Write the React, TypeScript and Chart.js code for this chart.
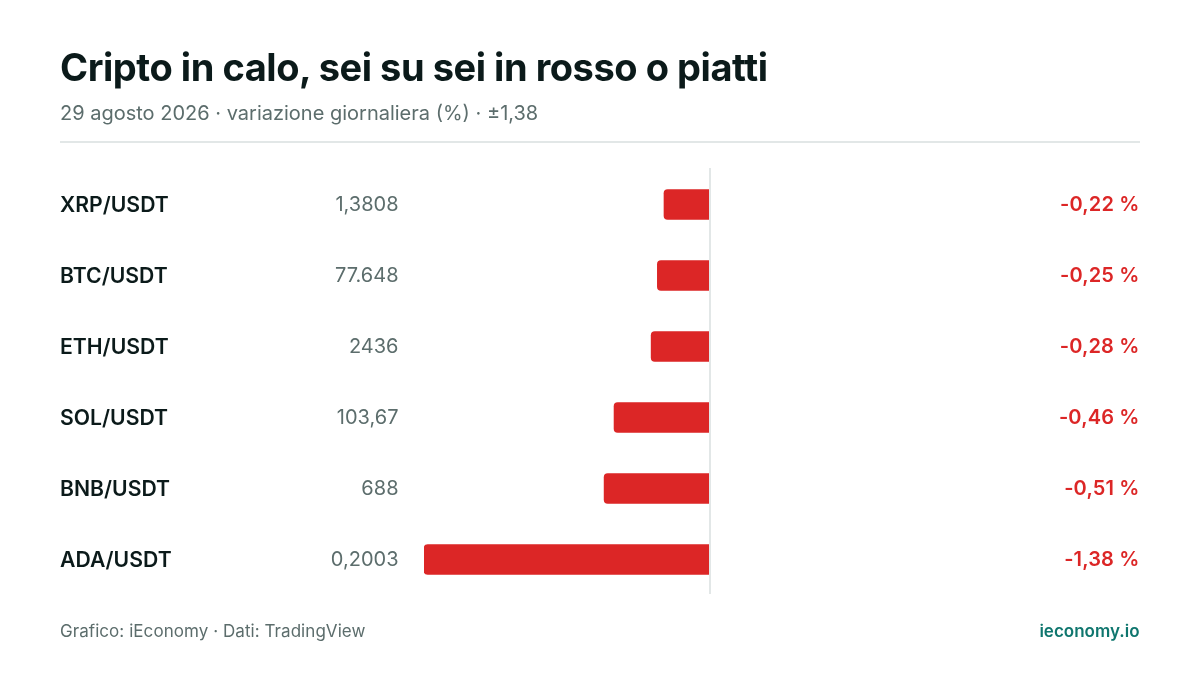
import React, { useEffect, useRef } from 'react';
import Chart from 'chart.js/auto';

const pairs = ['XRP/USDT', 'BTC/USDT', 'ETH/USDT', 'SOL/USDT', 'BNB/USDT', 'ADA/USDT'];
const changes = [-0.222, -0.254, -0.284, -0.463, -0.511, -1.38];
const prices = ['1,3808', '77.648', '2436', '103,67', '688', '0,2003'];
const changeLabels = ['-0,22 %', '-0,25 %', '-0,28 %', '-0,46 %', '-0,51 %', '-1,38 %'];
const domainLimit = 1.38;

const FONT = 'Inter, sans-serif';
const RED = '#dc2626';
const GREY = '#5c6d6c';
const INK = '#0b1a1a';
const RULE = '#e2e7e7';

const rowText = {
  id: 'rowText',
  afterDatasetsDraw(chart: Chart) {
    const { ctx, scales } = chart;
    const zero = scales.x.getPixelForValue(0);

    ctx.save();
    // zero line sits over the bar ends
    ctx.fillStyle = RULE;
    ctx.fillRect(zero - 1, scales.y.top - 1, 2, scales.y.height);

    ctx.textBaseline = 'middle';
    ctx.textAlign = 'right';
    pairs.forEach((_, i) => {
      const y = scales.y.getPixelForValue(i);
      ctx.font = `400 20px ${FONT}`;
      ctx.fillStyle = GREY;
      ctx.fillText(prices[i], 398.5, y);
      ctx.font = `600 20px ${FONT}`;
      ctx.fillStyle = RED;
      ctx.letterSpacing = '0.15px';
      ctx.fillText(changeLabels[i], 1139.5, y);
      ctx.letterSpacing = '0px';
    });
    ctx.restore();
  },
};

const App: React.FC = () => {
  const canvasRef = useRef<HTMLCanvasElement>(null);

  useEffect(() => {
    document.body.style.margin = '0';
    if (!canvasRef.current) return;

    const chart = new Chart(canvasRef.current, {
      type: 'bar',
      data: {
        labels: pairs,
        datasets: [
          {
            data: changes,
            backgroundColor: RED,
            barThickness: 30,
            borderRadius: { topLeft: 4, bottomLeft: 4, topRight: 0, bottomRight: 0 },
            borderSkipped: false,
          },
        ],
      },
      options: {
        indexAxis: 'y',
        animation: false,
        responsive: false,
        devicePixelRatio: 1,
        layout: { padding: { left: 60, right: 204, top: 169, bottom: 80 } },
        scales: {
          x: {
            min: -domainLimit,
            max: domainLimit,
            display: false,
          },
          y: {
            grid: { display: false },
            border: { display: false },
            afterFit: (scale) => {
              scale.width = 364;
            },
            ticks: {
              crossAlign: 'far',
              labelOffset: 1,
              color: INK,
              font: { family: FONT, size: 21.2, weight: 600 },
            },
          },
        },
        plugins: {
          legend: { display: false },
          tooltip: { enabled: false },
        },
      },
      plugins: [rowText],
    });

    return () => chart.destroy();
  }, []);

  return (
    <div style={{ position: 'relative', width: 1200, height: 675, background: '#fff', fontFamily: FONT, overflow: 'hidden' }}>
      <canvas ref={canvasRef} width={1200} height={675} style={{ position: 'absolute', left: 0, top: 0 }} />
      <div style={{ position: 'absolute', left: 60, top: 44, fontSize: 38, lineHeight: '46px', fontWeight: 700, letterSpacing: '-0.45px', color: INK }}>
        Cripto in calo, sei su sei in rosso o piatti
      </div>
      <div style={{ position: 'absolute', left: 60, top: 101, fontSize: 20, lineHeight: '24px', color: GREY }}>
        29 agosto 2026 · variazione giornaliera (%) · ±1,38
      </div>
      <div style={{ position: 'absolute', left: 60, top: 141, width: 1080, height: 2, background: RULE }} />
      <div style={{ position: 'absolute', left: 60, top: 621, fontSize: 17, lineHeight: '21px', letterSpacing: '0.06px', color: GREY }}>
        Grafico: iEconomy · Dati: TradingView
      </div>
      <div style={{ position: 'absolute', right: 60.5, top: 621, fontSize: 17, lineHeight: '21px', fontWeight: 600, color: '#0f766e' }}>
        ieconomy.io
      </div>
    </div>
  );
};

export default App;
